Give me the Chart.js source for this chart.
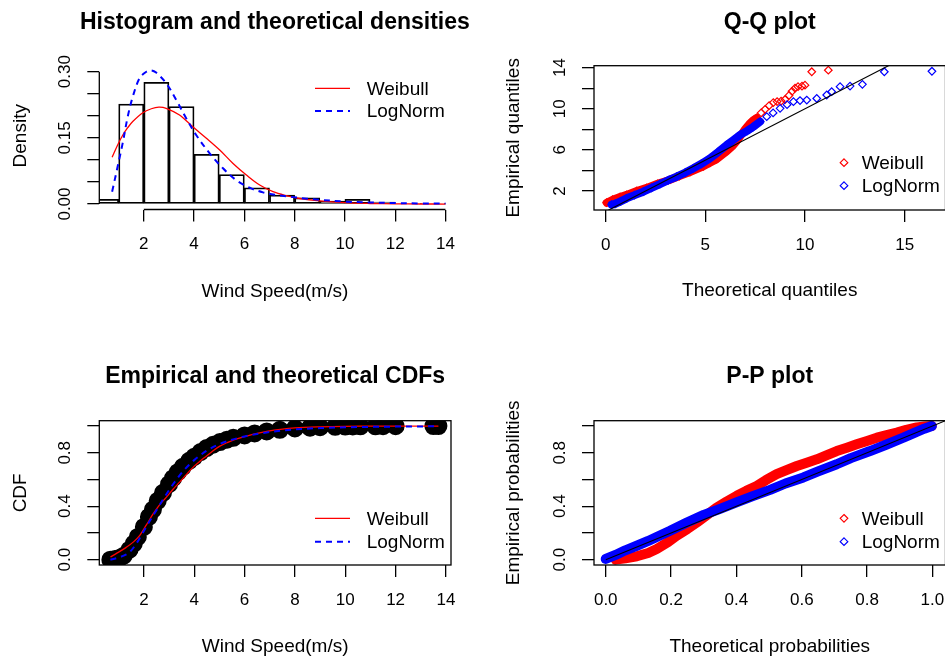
<!DOCTYPE html>
<html><head><meta charset="utf-8">
<script src="https://cdn.jsdelivr.net/npm/chart.js@4.4.1/dist/chart.umd.min.js"></script>
<style>
html,body{margin:0;padding:0;background:#fff;overflow:hidden;width:945px;height:660px;position:relative;}
canvas{position:absolute;}
</style></head><body>
<canvas id="c1" width="472" height="330" style="left:0;top:0"></canvas>
<canvas id="c2" width="520" height="330" style="left:472px;top:0"></canvas>
<canvas id="c3" width="472" height="330" style="left:0;top:330px"></canvas>
<canvas id="c4" width="520" height="330" style="left:472px;top:330px"></canvas>
<script>
// ---------------- DATA ----------------
// Panel 1: histogram + fitted densities
const histBinCenters = [0.5,1.5,2.5,3.5,4.5,5.5,6.5,7.5,8.5,9.5,10.5,11.5,12.5,13.5];
const histDensity    = [0.0107,0.2268,0.276,0.2207,0.1127,0.067,0.037,0.0204,0.0143,0.0068,0.0107,0.0045,0,0.0015];
const histXTicks = [2,4,6,8,10,12,14];
const histYTicks = [0,0.05,0.10,0.15,0.20,0.25,0.30];
const histYLabels = ['0.00','','','0.15','','','0.30'];
const weibullDensX = [0.74,0.96,1.16,1.36,1.56,1.96,2.3,2.6,2.89,3.42,3.95,4.49,5.02,5.55,6.08,6.61,7.14,7.67,8.2,9,10,11,12,13,14];
const weibullDensY = [0.106,0.134,0.156,0.173,0.187,0.207,0.216,0.2195,0.217,0.2018,0.175,0.149,0.1224,0.092,0.0658,0.043,0.028,0.019,0.0125,0.007,0.003,0.0012,0.0004,0.0001,0];
const lognormDensX = [0.74,0.96,1.16,1.36,1.56,1.83,2.1,2.29,2.49,2.89,3.29,3.69,4.09,4.62,5.15,5.68,6.21,6.74,7.27,7.8,8.5,9,10,11,12,13,14];
const lognormDensY = [0.028,0.085,0.138,0.198,0.243,0.285,0.300,0.303,0.298,0.274,0.236,0.194,0.156,0.115,0.081,0.054,0.037,0.0265,0.0204,0.0166,0.012,0.0095,0.0055,0.0035,0.0022,0.0014,0.001];

// Panel 2: Q-Q plot
const qqWeibullTheo = [0.05,0.35,0.72,1.05,1.56,2.06,2.6,3.23,3.7,4.23,4.9,5.23,5.57,6.07,6.35,6.57,6.8,6.99,7.2,7.41,7.58,7.8,8.0,8.2,8.41,8.6,8.8,9.0,9.2,9.35,9.5,9.65,9.85,10.0,10.34,11.17];
const qqWeibullEmp  = [0.86,1.15,1.42,1.62,2.0,2.3,2.7,3.1,3.45,3.85,4.4,4.75,5.1,5.85,6.35,6.85,7.45,8.0,8.5,8.9,9.1,9.6,9.95,10.3,10.6,10.7,10.75,10.9,11.3,11.7,12.0,12.15,12.2,12.3,13.6,13.75];
const qqLognormTheo = [0.3,0.47,0.75,1.05,1.45,1.89,2.3,2.72,3.15,3.56,4.0,4.4,4.8,5.23,5.65,6.07,6.4,6.74,7.1,7.41,7.75,8.08,8.4,8.75,9.1,9.42,9.75,10.09,10.59,11.09,11.34,11.76,12.26,12.88,13.98,16.37];
const qqLognormEmp  = [0.68,0.74,1.0,1.29,1.6,1.93,2.3,2.68,3.05,3.39,3.8,4.21,4.65,5.18,5.8,6.47,6.95,7.45,7.85,8.25,8.75,9.23,9.6,10.04,10.4,10.69,10.8,10.85,11.0,11.34,11.66,12.15,12.21,12.38,13.6,13.65];
const qqXTicks = [0,5,10,15];
const qqYTicks = [2,4,6,8,10,12,14];
const qqYLabels = ['2','','6','','10','','14'];

// Panel 3: empirical and theoretical CDFs
const ecdfX = [0.67,0.85,1.03,1.2,1.43,1.6,1.76,2.0,2.2,2.36,2.55,2.76,3.0,3.16,3.35,3.55,3.8,4.0,4.25,4.49,4.75,5.02,5.3,5.55,6.0,6.4,6.88,7.4,8.0,8.6,9.0,9.6,10.0,10.3,10.6,11.2,11.5,12.0,13.5,13.7];
const ecdfY = [0.0,0.005,0.012,0.03,0.075,0.12,0.17,0.245,0.32,0.375,0.44,0.5,0.565,0.61,0.655,0.695,0.74,0.77,0.805,0.835,0.86,0.88,0.898,0.912,0.93,0.945,0.96,0.972,0.982,0.988,0.991,0.994,0.996,0.997,0.998,0.998,0.999,0.999,1.0,1.0];
const weibullCdfX = [0.67,0.9,1.3,1.6,1.83,2.1,2.36,2.6,2.89,3.15,3.42,3.7,4.0,4.25,4.49,4.75,5.02,5.3,5.55,6.0,6.5,6.88,7.5,8.0,9.0,10.0,11.0,12.0,13.7];
const weibullCdfY = [0.02,0.045,0.092,0.135,0.18,0.26,0.34,0.405,0.466,0.525,0.58,0.64,0.70,0.74,0.776,0.815,0.85,0.875,0.895,0.92,0.945,0.96,0.977,0.986,0.994,0.998,0.999,1.0,1.0];
const lognormCdfX = [0.67,0.9,1.2,1.43,1.7,2.0,2.3,2.5,2.76,3.0,3.3,3.55,3.8,4.0,4.49,5.0,5.55,6.0,6.88,7.5,8.0,9.0,10.0,11.0,12.0,13.7];
const lognormCdfY = [0.0,0.01,0.03,0.055,0.12,0.215,0.31,0.37,0.45,0.52,0.6,0.66,0.71,0.745,0.815,0.865,0.9,0.922,0.952,0.966,0.975,0.985,0.991,0.994,0.996,0.998];
const cdfYTicks = [0,0.2,0.4,0.6,0.8,1.0];
const cdfYLabels = ['0.0','','0.4','','0.8',''];

// Panel 4: P-P plot
const ppWeibullTheo = [0.03,0.06,0.095,0.13,0.156,0.19,0.217,0.25,0.279,0.31,0.34,0.37,0.401,0.43,0.462,0.49,0.523,0.555,0.585,0.615,0.646,0.677,0.707,0.738,0.768,0.8,0.83,0.86,0.891,0.92,0.952,0.975,0.998];
const ppWeibullEmp  = [0.0,0.01,0.025,0.05,0.08,0.13,0.179,0.23,0.279,0.335,0.391,0.435,0.478,0.515,0.552,0.595,0.64,0.672,0.701,0.726,0.751,0.782,0.813,0.838,0.863,0.888,0.913,0.932,0.951,0.972,0.99,0.996,1.0];
const ppLognormTheo = [0.0,0.03,0.06,0.095,0.13,0.156,0.197,0.25,0.3,0.35,0.4,0.45,0.503,0.55,0.605,0.65,0.707,0.75,0.809,0.86,0.911,0.95,0.975,0.998];
const ppLognormEmp  = [0.005,0.035,0.07,0.104,0.14,0.17,0.216,0.28,0.335,0.38,0.428,0.475,0.522,0.57,0.615,0.66,0.714,0.76,0.813,0.862,0.913,0.955,0.98,1.0];
const ppXTicks = [0,0.2,0.4,0.6,0.8,1.0];
const ppXLabels = ['0.0','0.2','0.4','0.6','0.8','1.0'];
const diagLine = [0,20];

// ---------------- HELPERS ----------------
const FONT = "'Liberation Sans', Arial, Helvetica, sans-serif";
Chart.defaults.font.family = FONT;
Chart.defaults.color = '#000';
Chart.defaults.animation = false;
const RED = '#FF0000', BLUE = '#0000FF';
const zip = (xs, ys) => xs.map((x, i) => ({x: x, y: ys[i]}));

function xScale(o) {
  return {
    type: 'linear', position: 'bottom', min: o.min, max: o.max, offset: false,
    afterBuildTicks: s => { s.ticks = o.ticks.map(v => ({value: v})); },
    afterFit: s => { s.height = o.h; },
    ticks: {autoSkip: false, minRotation: 0, maxRotation: 0, padding: o.tp,
      font: {size: 17}, color: '#000',
      callback: (v, i) => o.labels ? o.labels[i] : String(v)},
    grid: {display: true, drawOnChartArea: false, drawTicks: true, tickLength: 12,
      color: '#000', lineWidth: 1.3, offset: false},
    border: {display: false},
    title: {display: true, text: o.title, font: {size: 19}, color: '#000',
      padding: {top: 0, bottom: o.pb}}
  };
}
function yScale(o) {
  return {
    type: 'linear', position: 'left', min: o.min, max: o.max,
    afterBuildTicks: s => { s.ticks = o.ticks.map(v => ({value: v})); },
    afterFit: s => { s.width = o.w; },
    ticks: {autoSkip: false, minRotation: 90, maxRotation: 90, crossAlign: 'center',
      padding: o.tp, font: {size: 17}, color: '#000',
      callback: (v, i) => o.labels[i]},
    grid: {display: true, drawOnChartArea: false, drawTicks: true, tickLength: 12,
      color: '#000', lineWidth: 1.3},
    border: {display: false},
    title: {display: true, text: o.title, font: {size: 19}, color: '#000',
      padding: {top: o.pt, bottom: 0}}
  };
}
function titleOpt(text, pt, pb) {
  return {display: true, text: text, fullSize: false, color: '#000',
    font: {size: 23, weight: 'bold'}, padding: {top: pt, bottom: pb}};
}

// R-like frame, axis lines, legend; title centred over the plot region without squeezing
const rPlugin = {
  id: 'rstyle',
  afterLayout(chart) {
    const tb = chart.titleBlock, ca = chart.chartArea;
    if (tb && ca) {
      const c = (ca.left + ca.right) / 2, w = 460;
      tb.left = c - w / 2; tb.right = c + w / 2; tb.width = w;
    }
  },
  afterDraw(chart, args, opts) {
    const ctx = chart.ctx, ca = chart.chartArea;
    ctx.save();
    ctx.strokeStyle = '#000';
    ctx.lineWidth = 1.3;
    if (opts.box) {
      ctx.strokeRect(ca.left, ca.top, ca.right - ca.left, ca.bottom - ca.top);
    }
    if (opts.axisLines) {
      const xs = chart.scales.x, ys = chart.scales.y;
      ctx.beginPath();
      ctx.moveTo(xs.getPixelForValue(xs.ticks[0].value), ca.bottom);
      ctx.lineTo(xs.getPixelForValue(xs.ticks[xs.ticks.length - 1].value), ca.bottom);
      ctx.moveTo(ca.left, ys.getPixelForValue(ys.ticks[0].value));
      ctx.lineTo(ca.left, ys.getPixelForValue(ys.ticks[ys.ticks.length - 1].value));
      ctx.stroke();
    }
    const lg = opts.legend;
    if (lg) {
      ctx.font = '19px ' + FONT;
      ctx.textBaseline = 'middle';
      ctx.textAlign = 'left';
      lg.items.forEach((dsIndex, k) => {
        const ds = chart.data.datasets[dsIndex];
        const y = (lg.anchor === 'top' ? ca.top : ca.bottom) + lg.dy + k * lg.gap;
        const x0 = ca.right + lg.dx;
        ctx.strokeStyle = ds.borderColor;
        if (lg.kind === 'line') {
          ctx.lineWidth = ds.borderWidth;
          ctx.setLineDash(ds.borderDash || []);
          ctx.beginPath(); ctx.moveTo(x0, y); ctx.lineTo(x0 + 35, y); ctx.stroke();
          ctx.setLineDash([]);
          ctx.fillStyle = '#000';
          ctx.fillText(ds.label, x0 + 51.7, y + 1);
        } else {
          const r = 3.8;
          ctx.lineWidth = 1.2;
          ctx.beginPath();
          ctx.moveTo(x0, y - r); ctx.lineTo(x0 + r, y); ctx.lineTo(x0, y + r); ctx.lineTo(x0 - r, y); ctx.closePath();
          ctx.stroke();
          ctx.fillStyle = '#000';
          ctx.fillText(ds.label, x0 + 17.7, y + 1);
        }
      });
    }
    ctx.restore();
  }
};

const baseOpts = {
  responsive: false, animation: false, events: [],
  layout: {autoPadding: false},
};
function bandSegment(color, limit) {
  return {borderColor: c => (c.p1.parsed.x <= limit ? color : 'rgba(0,0,0,0)')};
}

// ---------------- PANEL 1 ----------------
new Chart(document.getElementById('c1'), {
  type: 'bar',
  data: {datasets: [
    {type: 'line', label: 'Weibull', data: zip(weibullDensX, weibullDensY), borderColor: RED,
      borderWidth: 1.3, pointRadius: 0, tension: 0.35, fill: false, order: 2},
    {type: 'line', label: 'LogNorm', data: zip(lognormDensX, lognormDensY), borderColor: BLUE,
      borderWidth: 2, borderDash: [6, 5], pointRadius: 0, tension: 0.35, fill: false, order: 1},
    {type: 'bar', label: 'Histogram', data: zip(histBinCenters, histDensity), backgroundColor: 'rgba(0,0,0,0)',
      borderColor: '#000', borderWidth: 1.1, borderSkipped: false, barPercentage: 1, categoryPercentage: 1, order: 3}
  ]},
  options: Object.assign({}, baseOpts, {
    layout: {autoPadding: false, padding: {left: 0, right: 21.5, top: 0, bottom: 0}},
    scales: {
      x: xScale({min: 0.23, max: 14.2, ticks: histXTicks, h: 120.5, tp: 13, title: 'Wind Speed(m/s)', pb: 27}),
      y: yScale({min: -0.0124, max: 0.322, ticks: histYTicks, labels: histYLabels, w: 99.3, tp: 5.8, title: 'Density', pt: 9.5})
    },
    plugins: {
      legend: {display: false}, tooltip: {enabled: false},
      title: titleOpt('Histogram and theoretical densities', 9, 25.4),
      rstyle: {axisLines: true, legend: {kind: 'line', items: [0, 1], anchor: 'top', dx: -135.5, dy: 26.3, gap: 22.7}}
    }
  }),
  plugins: [rPlugin]
});

// ---------------- PANEL 2 ----------------
new Chart(document.getElementById('c2'), {
  type: 'scatter',
  data: {datasets: [
    {label: 'Weibull', data: zip(qqWeibullTheo, qqWeibullEmp), borderColor: RED, backgroundColor: 'rgba(0,0,0,0)',
      pointStyle: 'rectRot', pointRadius: 3.8, pointBorderWidth: 1.2, showLine: true, borderWidth: 8,
      borderCapStyle: 'round', borderJoinStyle: 'round', segment: bandSegment(RED, 7.6), order: 2},
    {label: 'LogNorm', data: zip(qqLognormTheo, qqLognormEmp), borderColor: BLUE, backgroundColor: 'rgba(0,0,0,0)',
      pointStyle: 'rectRot', pointRadius: 3.8, pointBorderWidth: 1.2, showLine: true, borderWidth: 8,
      borderCapStyle: 'round', borderJoinStyle: 'round', segment: bandSegment(BLUE, 7.8), order: 1},
    {label: 'y = x', data: zip(diagLine, diagLine), borderColor: '#000', borderWidth: 1.1, showLine: true, pointRadius: 0, order: 0}
  ]},
  options: Object.assign({}, baseOpts, {
    layout: {autoPadding: false, padding: {left: 0, right: 46.5, top: 0, bottom: 0}},
    scales: {
      x: xScale({min: -0.587, max: 17.05, ticks: qqXTicks, h: 120, tp: 13, title: 'Theoretical quantiles', pb: 28}),
      y: yScale({min: 0.152, max: 14.19, ticks: qqYTicks, labels: qqYLabels, w: 122, tp: 11.8, title: 'Empirical quantiles', pt: 30.5})
    },
    plugins: {
      legend: {display: false}, tooltip: {enabled: false},
      title: titleOpt('Q-Q plot', 8.5, 29.6),
      rstyle: {box: true, legend: {kind: 'diamond', items: [0, 1], anchor: 'bottom', dx: -101.5, dy: -47.3, gap: 23}}
    }
  }),
  plugins: [rPlugin]
});

// ---------------- PANEL 3 ----------------
new Chart(document.getElementById('c3'), {
  type: 'scatter',
  data: {datasets: [
    {label: 'Weibull', data: zip(weibullCdfX, weibullCdfY), borderColor: RED, borderWidth: 1.3, showLine: true,
      pointRadius: 0, cubicInterpolationMode: 'monotone', order: 2},
    {label: 'LogNorm', data: zip(lognormCdfX, lognormCdfY), borderColor: BLUE, borderWidth: 2, borderDash: [6, 5],
      showLine: true, pointRadius: 0, cubicInterpolationMode: 'monotone', order: 1},
    {label: 'Empirical', data: zip(ecdfX, ecdfY), borderColor: '#000', backgroundColor: '#000', pointRadius: 4.5,
      pointStyle: 'circle', showLine: true, borderWidth: 9, borderCapStyle: 'round', borderJoinStyle: 'round',
      segment: bandSegment('#000', 10.7), order: 3}
  ]},
  options: Object.assign({}, baseOpts, {
    layout: {autoPadding: false, padding: {left: 0, right: 21, top: 0, bottom: 0}},
    scales: {
      x: xScale({min: 0.23, max: 14.2, ticks: histXTicks, h: 95, tp: 13.5, title: 'Wind Speed(m/s)', pb: 2}),
      y: yScale({min: -0.04, max: 1.04, ticks: cdfYTicks, labels: cdfYLabels, w: 99.3, tp: 10.5, title: 'CDF', pt: 9.5})
    },
    plugins: {
      legend: {display: false}, tooltip: {enabled: false},
      title: titleOpt('Empirical and theoretical CDFs', 32.5, 30.6),
      rstyle: {box: true, legend: {kind: 'line', items: [0, 1], anchor: 'bottom', dx: -136, dy: -46.7, gap: 23.4}}
    }
  }),
  plugins: [rPlugin]
});

// ---------------- PANEL 4 ----------------
new Chart(document.getElementById('c4'), {
  type: 'scatter',
  data: {datasets: [
    {label: 'Weibull', data: zip(ppWeibullTheo, ppWeibullEmp), borderColor: RED, backgroundColor: 'rgba(0,0,0,0)',
      pointStyle: 'rectRot', pointRadius: 3.8, pointBorderWidth: 1.2, showLine: true, borderWidth: 10,
      borderCapStyle: 'round', borderJoinStyle: 'round', order: 2},
    {label: 'LogNorm', data: zip(ppLognormTheo, ppLognormEmp), borderColor: BLUE, backgroundColor: 'rgba(0,0,0,0)',
      pointStyle: 'rectRot', pointRadius: 3.8, pointBorderWidth: 1.2, showLine: true, borderWidth: 10,
      borderCapStyle: 'round', borderJoinStyle: 'round', order: 1},
    {label: 'y = x', data: zip(diagLine, diagLine), borderColor: '#000', borderWidth: 1.1, showLine: true, pointRadius: 0, order: 0}
  ]},
  options: Object.assign({}, baseOpts, {
    layout: {autoPadding: false, padding: {left: 0, right: 46.5, top: 0, bottom: 0}},
    scales: {
      x: xScale({min: -0.036, max: 1.04, ticks: ppXTicks, labels: ppXLabels, h: 95, tp: 13.5, title: 'Theoretical probabilities', pb: 2}),
      y: yScale({min: -0.04, max: 1.04, ticks: cdfYTicks, labels: cdfYLabels, w: 122, tp: 9.5, title: 'Empirical probabilities', pt: 30.5})
    },
    plugins: {
      legend: {display: false}, tooltip: {enabled: false},
      title: titleOpt('P-P plot', 32.5, 30.6),
      rstyle: {box: true, legend: {kind: 'diamond', items: [0, 1], anchor: 'bottom', dx: -101.5, dy: -46.7, gap: 23.4}}
    }
  }),
  plugins: [rPlugin]
});
</script>
</body></html>
